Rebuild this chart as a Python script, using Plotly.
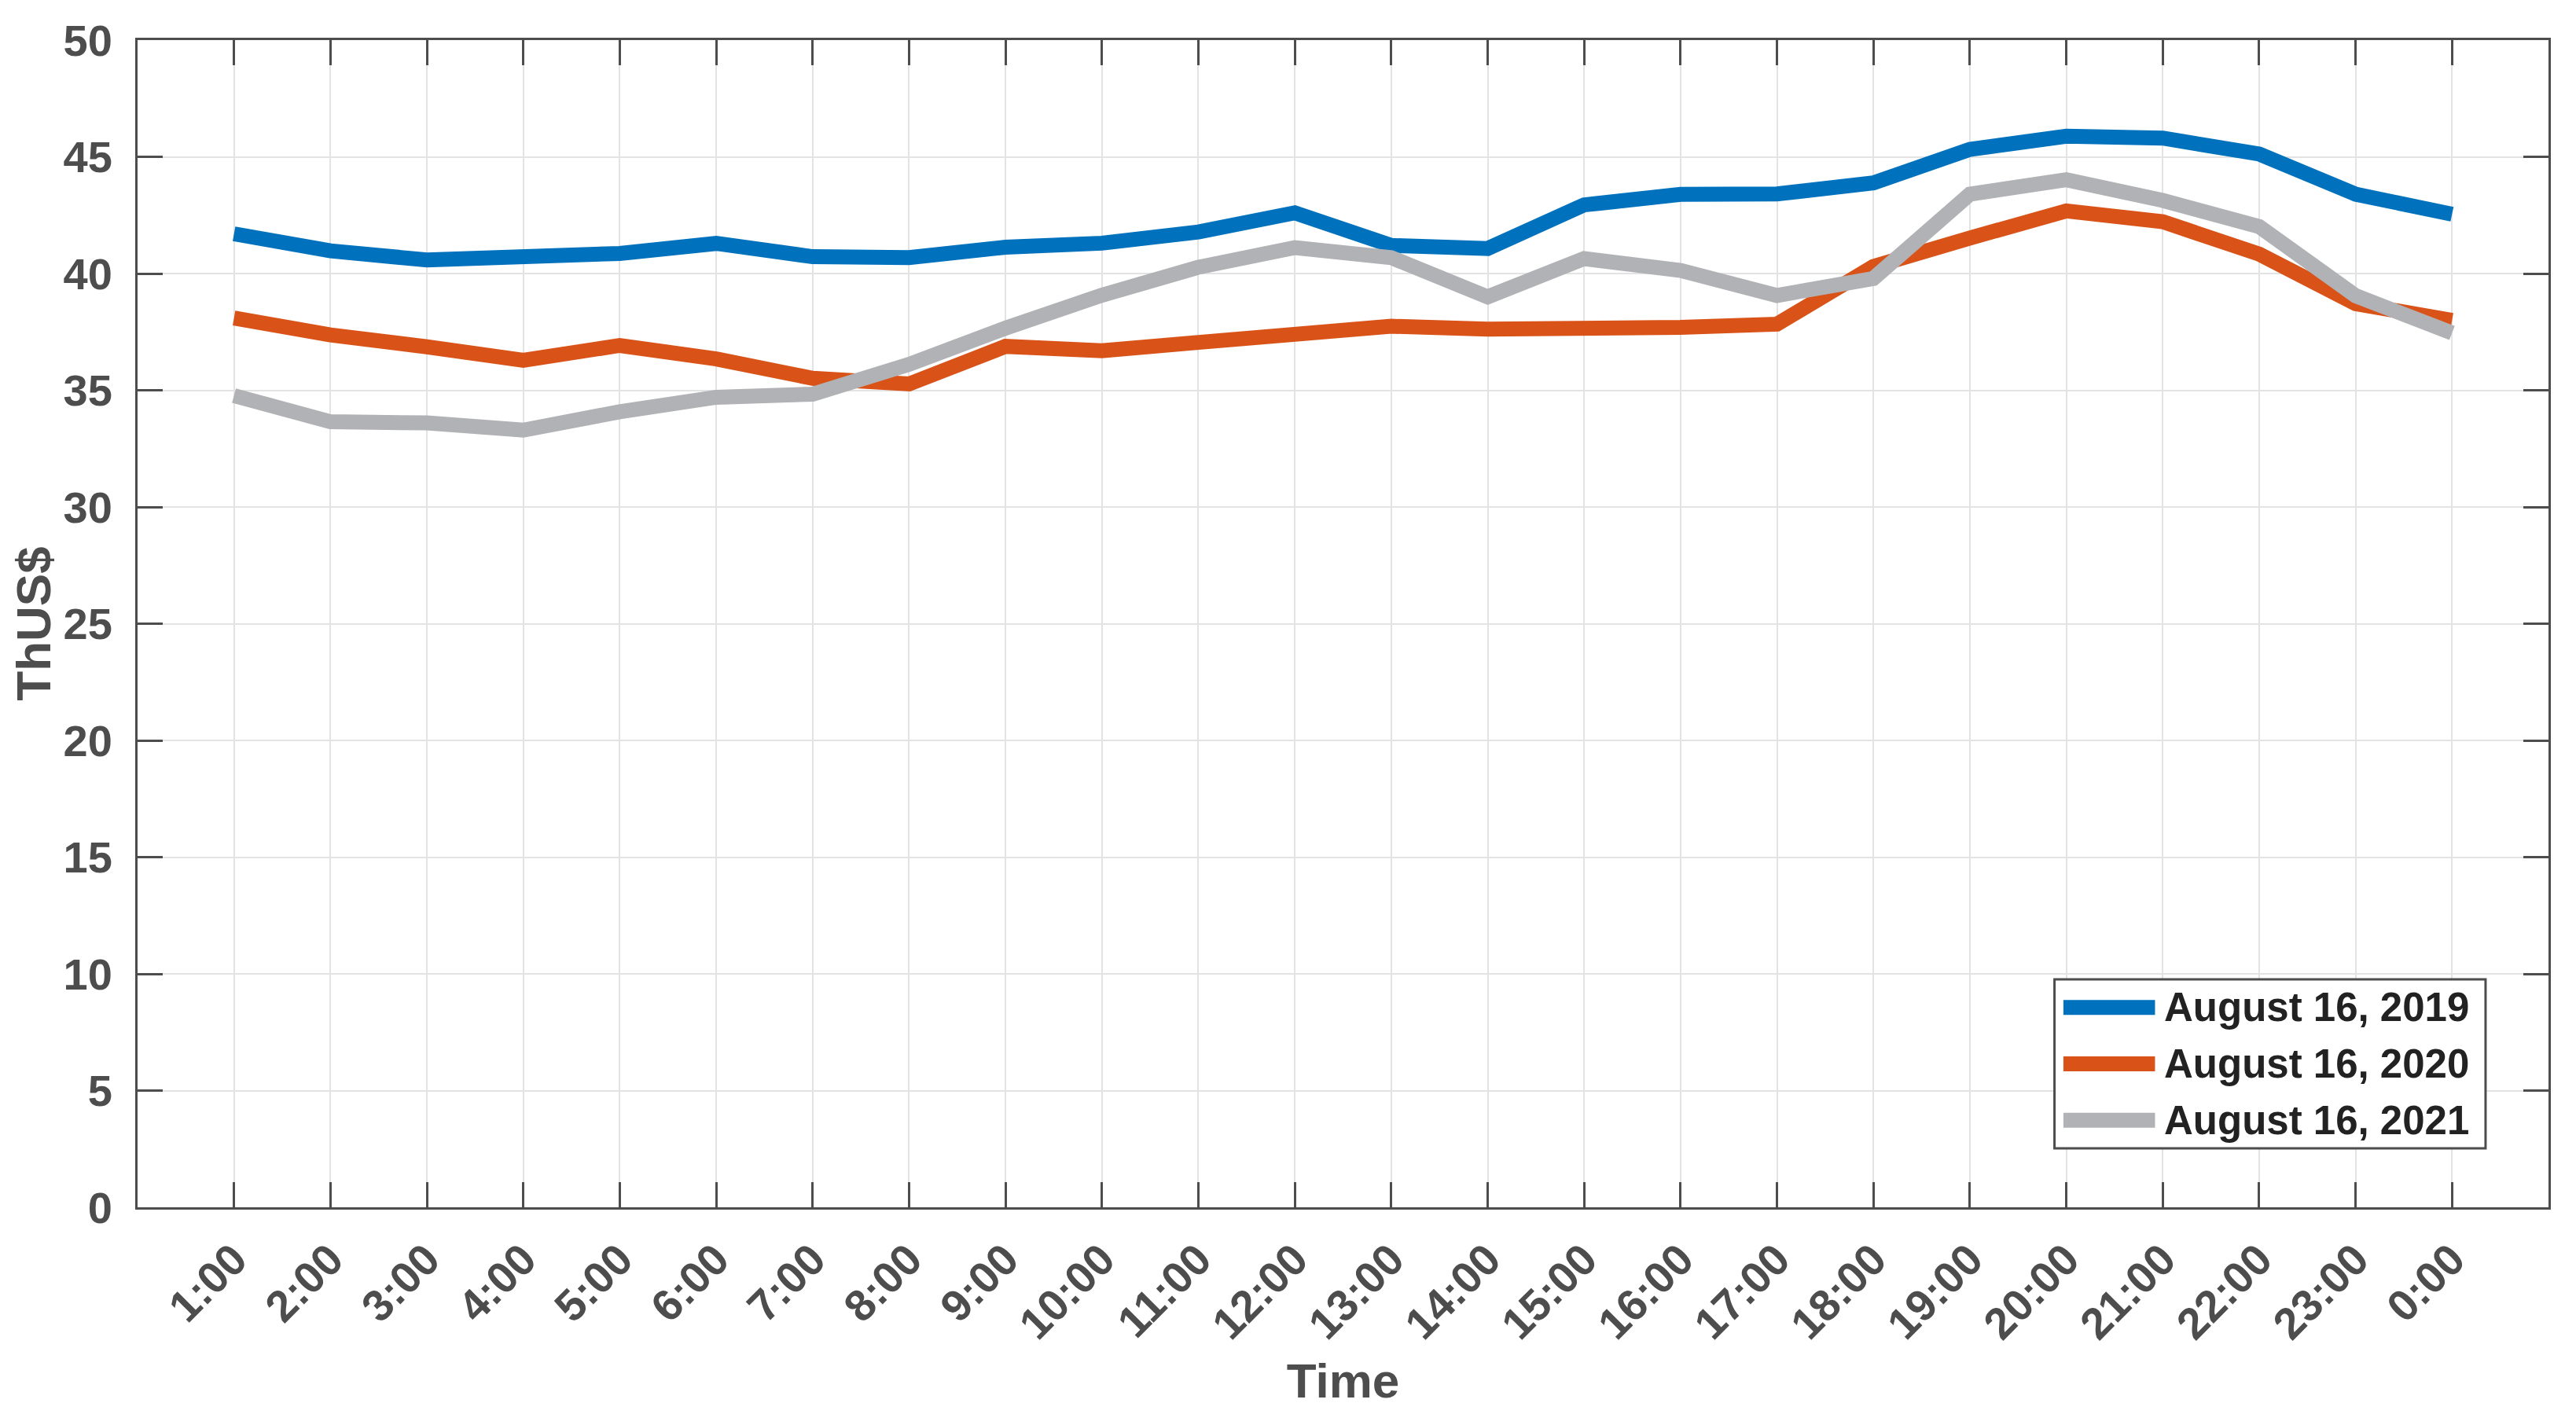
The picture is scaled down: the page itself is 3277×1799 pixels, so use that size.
import plotly.graph_objects as go

hours = ["1:00", "2:00", "3:00", "4:00", "5:00", "6:00", "7:00", "8:00", "9:00", "10:00",
         "11:00", "12:00", "13:00", "14:00", "15:00", "16:00", "17:00", "18:00", "19:00",
         "20:00", "21:00", "22:00", "23:00", "0:00"]
x_pos = list(range(1, len(hours) + 1))

aug_2019 = [41.7, 40.97, 40.58, 40.79, 40.86, 41.29, 40.72, 40.68, 41.13, 41.30,
            41.78, 42.60, 41.20, 41.07, 42.94, 43.39, 43.41, 43.88, 45.32, 45.88,
            45.80, 45.12, 43.40, 42.54]
aug_2020 = [38.09, 37.37, 36.86, 36.28, 36.92, 36.34, 35.51, 35.27, 36.88, 36.69,
            37.05, 37.33, 37.74, 37.62, 37.62, 37.69, 37.83, 40.30, 41.52, 42.68,
            42.22, 40.83, 38.71, 37.99]
aug_2021 = [34.77, 33.65, 33.60, 33.29, 34.08, 34.70, 34.83, 36.11, 37.66, 39.07,
            40.27, 41.11, 40.68, 39.00, 40.64, 40.13, 39.06, 39.79, 43.40, 44.02,
            43.13, 42.01, 39.05, 37.45]

series_names = ["August 16, 2019", "August 16, 2020", "August 16, 2021"]
series_colors = ["#0072BD", "#D95319", "#B1B2B5"]
y_ticks = [0, 5, 10, 15, 20, 25, 30, 35, 40, 45, 50]

FONT = "Liberation Sans, Arial, Helvetica, sans-serif"
AXC = "#4D4D4D"
GRID = "#E3E3E3"
LINE_W = 19

fig = go.Figure()
for name, vals, col in zip(series_names, [aug_2019, aug_2020, aug_2021], series_colors):
    fig.add_trace(go.Scatter(x=x_pos, y=vals, mode="lines", name=name,
                             line=dict(color=col, width=LINE_W), showlegend=False))

# Legend box (MATLAB-style, long sample lines) in axis-domain coordinates
box_x0, box_x1 = 0.7951, 0.9739
box_y0, box_y1 = 0.0505, 0.1953
samp_x0, samp_x1 = 0.7988, 0.8368
text_x = 0.8400
row_h = (box_y1 - box_y0) / len(series_names)
fig.add_shape(type="rect", xref="x domain", yref="y domain",
              x0=box_x0, x1=box_x1, y0=box_y0, y1=box_y1,
              line=dict(color=AXC, width=3), fillcolor="white", layer="above")
for i, (name, col) in enumerate(zip(series_names, series_colors)):
    ry = box_y1 - (i + 0.5) * row_h
    fig.add_shape(type="line", xref="x domain", yref="y domain",
                  x0=samp_x0, x1=samp_x1, y0=ry, y1=ry,
                  line=dict(color=col, width=LINE_W), layer="above")
    fig.add_annotation(xref="x domain", yref="y domain", x=text_x, y=ry,
                       xanchor="left", yanchor="middle", showarrow=False,
                       text=name,
                       font=dict(family=FONT, size=51, color="#222222", weight="bold"))

# page body has an 8px margin; size the figure so the plot area lands where the reference has it
fig.update_layout(
    width=3261, height=1783,
    margin=dict(l=167, r=27, t=43, b=255, autoexpand=False),
    paper_bgcolor="white", plot_bgcolor="white",
    font=dict(family=FONT, size=56, color=AXC, weight="bold"),
    showlegend=False,
)
fig.update_xaxes(
    range=[0, 25], tickmode="array", tickvals=x_pos, ticktext=hours,
    tickangle=-45, ticks="inside", ticklen=32, tickwidth=3, tickcolor=AXC,
    showline=True, linewidth=3, linecolor=AXC, mirror="ticks",
    showgrid=True, gridcolor=GRID, gridwidth=2, zeroline=False, automargin=False,
    tickfont=dict(family=FONT, size=56, color=AXC, weight="bold"),
    ticklabelstandoff=8,
    title=dict(text="Time", font=dict(family=FONT, size=62, color=AXC, weight="bold"), standoff=34),
)
fig.update_yaxes(
    range=[0, 50], tickmode="array", tickvals=y_ticks,
    ticks="inside", ticklen=32, tickwidth=3, tickcolor=AXC,
    showline=True, linewidth=3, linecolor=AXC, mirror="ticks",
    showgrid=True, gridcolor=GRID, gridwidth=2, zeroline=False, automargin=False,
    tickfont=dict(family=FONT, size=56, color=AXC, weight="bold"),
    ticklabelstandoff=18,
    title=dict(text="ThUS$", font=dict(family=FONT, size=62, color=AXC, weight="bold"), standoff=19),
)

fig.write_html("out.html")
